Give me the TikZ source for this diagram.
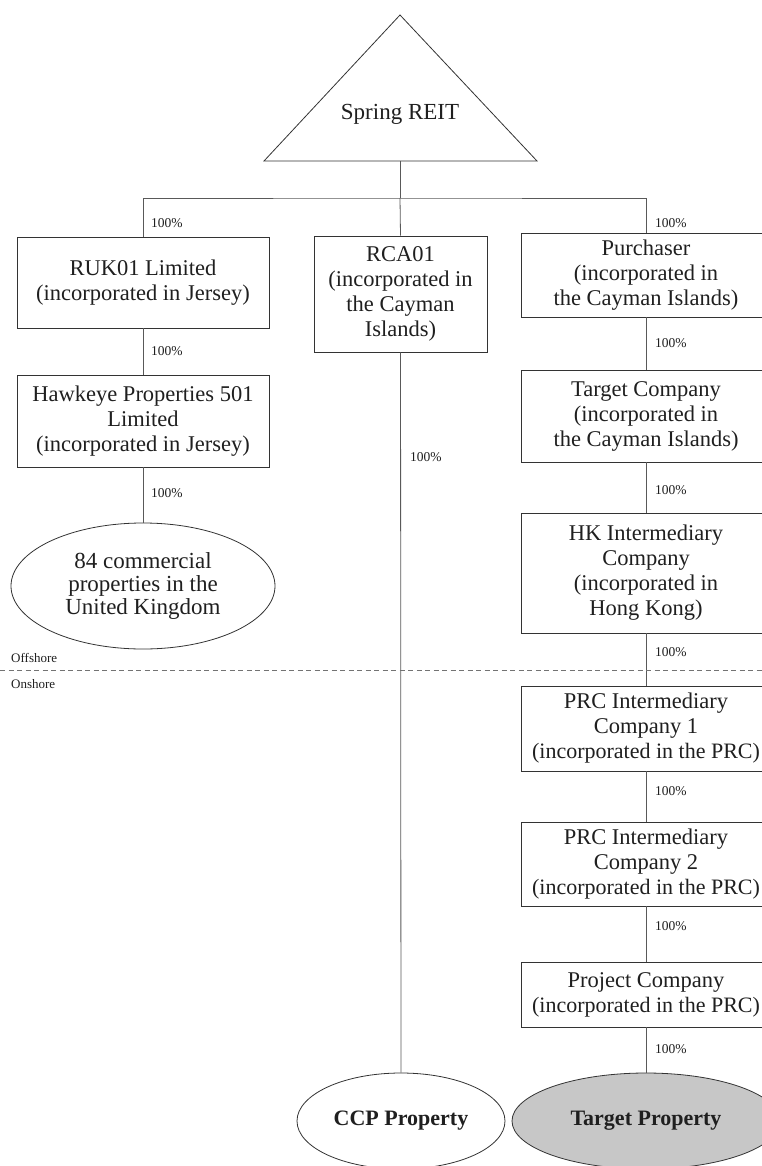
\documentclass[tikz,border=0pt]{standalone}
\usepackage{fontspec}
\setmainfont{Liberation Serif}
\usetikzlibrary{shapes.geometric}
\begin{document}
\begin{tikzpicture}[x=1pt,y=-1pt,
  every node/.style={text=black!88},
  box/.style={draw=black!80, line width=0.8pt, align=center, inner sep=0pt,
    font=\fontsize{22.5}{25}\selectfont},
  oval/.style={draw=black!80, line width=0.8pt, ellipse, align=center, inner sep=0pt,
    font=\fontsize{23}{23}\selectfont},
  link/.style={draw=black!65, line width=0.8pt},
  pct/.style={anchor=west, inner sep=0pt, font=\fontsize{13.5}{14}\selectfont},
  zone/.style={anchor=west, inner sep=0pt, font=\fontsize{13}{15}\selectfont}
]
\useasboundingbox (0,0) rectangle (762,1166);

% Spring REIT triangle
\coordinate (apex) at (400,15);
\coordinate (bl) at (264,161);
\coordinate (br) at (537,161);
\coordinate (reitb) at (400,161);
\draw[draw=black!80, line width=0.8pt] (apex) -- (bl) -- (br) -- cycle;
\node[font=\fontsize{23}{26}\selectfont] (reit) at (400,114) {Spring REIT};
\coordinate (bar) at (400,198);

% left column
\node[box, minimum width=252, minimum height=91] (ruk) at (143,282.5)
  {RUK01 Limited\\(incorporated in Jersey)};
\node[box, minimum width=252, minimum height=92] (hawk) at (143,421)
  {Hawkeye Properties 501\\Limited\\(incorporated in Jersey)};
\node[oval, minimum width=264, minimum height=126] (uk) at (143,586)
  {84 commercial\\properties in the\\United Kingdom};

% middle column
\node[box, minimum width=173, minimum height=116] (rca) at (400.5,294)
  {RCA01\\(incorporated in\\the Cayman\\Islands)};
\node[oval, minimum width=208, minimum height=96, font=\fontsize{22}{24}\selectfont\bfseries] (ccp) at (401,1121)
  {CCP Property};

% right column
\node[box, minimum width=250, minimum height=84] (pur) at (646,275)
  {Purchaser\\(incorporated in\\the Cayman Islands)};
\node[box, minimum width=250, minimum height=92] (tgt) at (646,416)
  {Target Company\\(incorporated in\\the Cayman Islands)};
\node[box, minimum width=250, minimum height=120] (hk) at (646,573)
  {HK Intermediary\\Company\\(incorporated in\\Hong Kong)};
\node[box, minimum width=250, minimum height=85] (prc1) at (646,728.5)
  {PRC Intermediary\\Company 1\\{\fontsize{22}{25}\selectfont(incorporated in the PRC)}};
\node[box, minimum width=250, minimum height=84] (prc2) at (646,864)
  {PRC Intermediary\\Company 2\\{\fontsize{22}{25}\selectfont(incorporated in the PRC)}};
\node[box, minimum width=250, minimum height=65] (proj) at (646,994.5)
  {Project Company\\{\fontsize{22}{25}\selectfont(incorporated in the PRC)}};
\node[oval, fill=black!22, minimum width=268, minimum height=96, font=\fontsize{22}{24}\selectfont\bfseries] (tprop) at (646,1121)
  {Target Property};

% connectors
\draw[link] (reitb) -- (bar);
\draw[link] (ruk.north) |- (bar) -| (pur.north);
\draw[link] (bar) -- (rca.north);
\draw[link] (ruk) -- (hawk);
\draw[link] (hawk) -- (uk);
\draw[link] (rca) -- (ccp);
\draw[link] (pur) -- (tgt);
\draw[link] (tgt) -- (hk);
\draw[link] (hk) -- (prc1);
\draw[link] (prc1) -- (prc2);
\draw[link] (prc2) -- (proj);
\draw[link] (proj) -- (tprop);

% percentage labels
\node[pct] (p1) at (151,223) {100\%};
\node[pct] (p2) at (655,223) {100\%};
\node[pct] (p3) at (151,351) {100\%};
\node[pct] (p4) at (151,493) {100\%};
\node[pct] (p5) at (410,457) {100\%};
\node[pct] (p6) at (655,343) {100\%};
\node[pct] (p7) at (655,490) {100\%};
\node[pct] (p8) at (655,652) {100\%};
\node[pct] (p9) at (655,791) {100\%};
\node[pct] (p10) at (655,926) {100\%};
\node[pct] (p11) at (655,1049) {100\%};

% offshore / onshore divider
\coordinate (dl) at (0,670);
\coordinate (dr) at (762,670);
\draw[draw=black!55, line width=0.8pt, dash pattern=on 5pt off 3.5pt] (dl) -- (dr);
\node[zone] (off) at (11,658) {Offshore};
\node[zone] (on) at (11,684) {Onshore};
\end{tikzpicture}
\end{document}
